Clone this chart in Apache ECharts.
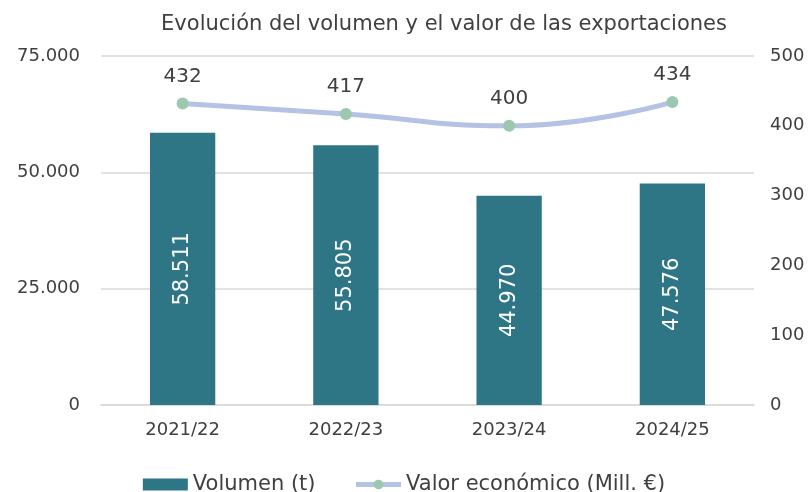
<!DOCTYPE html>
<html>
<head>
<meta charset="utf-8">
<script src="https://cdn.jsdelivr.net/npm/echarts@6/dist/echarts.min.js"></script>
<style>
  html, body { margin: 0; padding: 0; background: #fff; }
  #chart { width: 808px; height: 492px; }
</style>
</head>
<body>
<div id="chart"></div>
<script>
// datos
const campanas = ['2021/22', '2022/23', '2023/24', '2024/25'];
const volumen = [58511, 55805, 44970, 47576];
const valor = [432, 417, 400, 434];

const fontFam = 'DejaVu Sans';
const textColor = '#404040';

// formato con punto de miles
const fmtMiles = (v) => String(v).replace(/\B(?=(\d{3})+(?!\d))/g, '.');

const chart = echarts.init(document.getElementById('chart'));

chart.setOption({
  animation: false,
  title: {
    text: 'Evolución del volumen y el valor de las exportaciones',
    left: 439,
    textAlign: 'center',
    top: 9,
    textStyle: { color: textColor, fontSize: 21, fontWeight: 'normal', fontFamily: fontFam }
  },
  legend: {
    top: 469,
    left: 'center',
    itemGap: 38,
    itemWidth: 45,
    itemHeight: 12,
    textStyle: { color: textColor, fontSize: 21, fontFamily: fontFam },
    lineStyle: { width: 5 },
    data: [
      { name: 'Volumen (t)', icon: 'rect' },
      { name: 'Valor económico (Mill. €)' }
    ]
  },
  grid: { left: 101, right: 54, top: 56, bottom: 87 },
  xAxis: {
    type: 'category',
    data: campanas,
    axisTick: { show: false },
    axisLine: { lineStyle: { color: '#D9D9D9', width: 1.5 } },
    axisLabel: { color: textColor, fontSize: 18, fontFamily: fontFam, margin: 16 }
  },
  yAxis: [
    {
      type: 'value',
      min: 0,
      max: 75000,
      interval: 25000,
      axisLabel: { color: textColor, fontSize: 18, fontFamily: fontFam, margin: 21, formatter: fmtMiles },
      splitLine: { lineStyle: { color: '#D9D9D9', width: 1.5 } }
    },
    {
      type: 'value',
      min: 0,
      max: 500,
      interval: 100,
      position: 'right',
      axisLabel: { color: textColor, fontSize: 18, fontFamily: fontFam, margin: 16 },
      splitLine: { show: false }
    }
  ],
  series: [
    {
      name: 'Volumen (t)',
      type: 'bar',
      data: volumen,
      barWidth: '40%',
      itemStyle: { color: '#2E7585' },
      label: {
        show: true,
        position: 'inside',
        rotate: 90,
        color: '#fff',
        fontSize: 21,
        fontFamily: fontFam,
        formatter: (p) => fmtMiles(p.value)
      }
    },
    {
      name: 'Valor económico (Mill. €)',
      type: 'line',
      yAxisIndex: 1,
      data: valor,
      smooth: true,
      symbol: 'circle',
      symbolSize: 12,
      lineStyle: { color: '#B4C3E3', width: 5 },
      itemStyle: { color: '#9DC8B0' },
      label: {
        show: true,
        position: 'top',
        distance: 11,
        color: textColor,
        fontSize: 20,
        fontFamily: fontFam
      }
    }
  ]
});
</script>
</body>
</html>
